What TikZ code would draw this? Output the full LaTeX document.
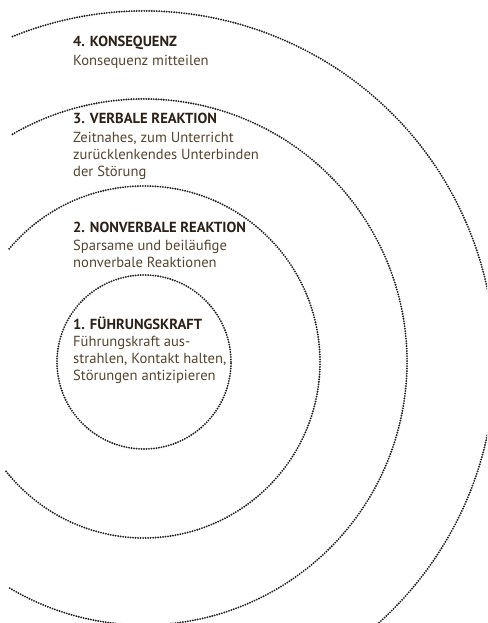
\documentclass[tikz,border=0pt]{standalone}
\usepackage{fontspec}
\setmainfont{PT Sans}
\definecolor{headcol}{HTML}{2B2118}
\definecolor{bodycol}{HTML}{55442F}
\definecolor{dotcol}{HTML}{222222}

\begin{document}
\begin{tikzpicture}[x=1pt, y=1pt,
        ring/.style={dotcol, line width=2.1pt, line cap=round, dash pattern=on 0pt off 2.5pt},
        stufe/.style={anchor=base west, inner sep=0pt, align=left, text=bodycol,
                font=\fontsize{14.6}{17.2}\selectfont},
        ]
                \useasboundingbox (0,0) rectangle (487,623);
                \clip (0,0) rectangle (487,623);
                \coordinate (c) at (144,261);

                % the four rings
                \draw[ring] (c) circle[radius=87];
                \draw[ring] (c) ++(140:176) arc[start angle=140, end angle=-142, radius=176];
                \draw[ring] (c) ++(120:263) arc[start angle=120, end angle=-121, radius=263];
                \draw[ring] (c) ++(112:351) arc[start angle=112, end angle=-80, radius=351];

                % base anchor sits on the last line
                \node[stufe] at (73,557) (s4) {\textcolor{headcol}{\textbf{4. KONSEQUENZ}}\\[2pt]
                        Konsequenz mitteilen};
                \node[stufe] at (73,446) (s3) {\textcolor{headcol}{\textbf{3. VERBALE REAKTION}}\\[2pt]
                        Zeitnahes, zum Unterricht\\zurücklenkendes Unterbinden\\der Störung};
                \node[stufe] at (73,355) (s2) {\textcolor{headcol}{\textbf{2. NONVERBALE REAKTION}}\\[1pt]
                        Sparsame und beiläufige\\nonverbale Reaktionen};
                \node[stufe] at (73,242) (s1) {\textcolor{headcol}{\textbf{1. FÜHRUNGSKRAFT}}\\[0pt]
                        Führungskraft aus-\\strahlen, Kontakt halten,\\Störungen antizipieren};

            \end{tikzpicture}
\end{document}
